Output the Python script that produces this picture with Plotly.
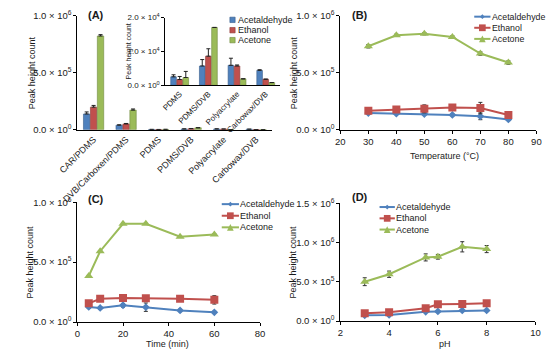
import plotly.graph_objects as go

W, H = 550, 357

# ---------------- data ----------------
fibers = ["CAR/PDMS", "DVB/Carboxen/PDMS", "PDMS", "PDMS/DVB", "Polyacrylate", "Carbowax/DVB"]
fiber_acetaldehyde = [138000, 40000, 2500, 5700, 5900, 4400]
fiber_ethanol = [198000, 51000, 1700, 8600, 5700, 1800]
fiber_acetone = [822000, 172000, 2300, 17100, 1900, 800]
fiber_acetaldehyde_err = [18000, 3000, 600, 1900, 2100, 200]
fiber_ethanol_err = [15000, 4000, 900, 2200, 300, 0]
fiber_acetone_err = [12000, 10000, 1800, 0, 0, 0]

temperature = [30, 40, 50, 60, 70, 80]
temp_acetaldehyde = [146000, 141000, 138000, 130000, 118000, 90000]
temp_ethanol = [166000, 177000, 183000, 194000, 190000, 130000]
temp_acetone = [732000, 828000, 842000, 814000, 668000, 589000]
temp_acetaldehyde_err = [8000, 8000, 8000, 8000, 30000, 8000]
temp_ethanol_err = [10000, 10000, 35000, 10000, 50000, 20000]
temp_acetone_err = [15000, 10000, 10000, 10000, 15000, 15000]

time_min = [5, 10, 20, 30, 45, 60]
time_acetaldehyde = [126000, 118000, 140000, 124000, 97000, 81000]
time_ethanol = [156000, 194000, 200000, 199000, 194000, 185000]
time_acetone = [384000, 591000, 820000, 820000, 712000, 731000]
time_acetaldehyde_err = [10000, 10000, 15000, 35000, 10000, 8000]
time_ethanol_err = [10000, 10000, 10000, 10000, 10000, 35000]
time_acetone_err = [5000, 5000, 5000, 5000, 5000, 5000]

ph = [3, 4, 5.5, 6, 7, 8]
ph_acetaldehyde = [74000, 78000, 119000, 123000, 136000, 136000]
ph_ethanol = [99000, 111000, 164000, 214000, 218000, 226000]
ph_acetone = [501000, 596000, 810000, 818000, 945000, 916000]
ph_acetaldehyde_err = [5000, 5000, 5000, 5000, 5000, 5000]
ph_ethanol_err = [10000, 10000, 20000, 20000, 10000, 10000]
ph_acetone_err = [50000, 40000, 45000, 30000, 65000, 45000]

series_names = ["Acetaldehyde", "Ethanol", "Acetone"]
colors = ["#4F81BD", "#C0504D", "#9BBB59"]
edge = ["#385D8A", "#8C3836", "#71893F"]
symbols = ["diamond", "square", "triangle-up"]
msizes = [6, 8, 8]

FONT = "Liberation Sans, Arial, sans-serif"
TXT = "#1a1a1a"


def px(x):
    return x / W


def py(y):
    return 1 - y / H


def sci(m, e):
    return f"{m} × 10<sup>{e}</sup>"


fig = go.Figure()

# ---------- Panel A: bars (main + inset) ----------
fib_vals = [fiber_acetaldehyde, fiber_ethanol, fiber_acetone]
fib_errs = [fiber_acetaldehyde_err, fiber_ethanol_err, fiber_acetone_err]
for i in range(3):
    fig.add_trace(go.Bar(
        x=fibers, y=fib_vals[i], name=series_names[i],
        marker=dict(color=colors[i], line=dict(color=edge[i], width=0.6)),
        error_y=dict(type="data", array=fib_errs[i], color="#222", thickness=1, width=2,
                     symmetric=False, arrayminus=[0] * len(fibers)),
        xaxis="x", yaxis="y", showlegend=False))
for i in range(3):
    fig.add_trace(go.Bar(
        x=fibers[2:], y=fib_vals[i][2:], name=series_names[i],
        marker=dict(color=colors[i], line=dict(color=edge[i], width=0.6)),
        error_y=dict(type="data", array=fib_errs[i][2:], color="#222", thickness=1, width=2,
                     symmetric=False, arrayminus=[0] * 4),
        xaxis="x2", yaxis="y2", showlegend=False))

# ---------- line panels ----------
panels = [
    ("x3", "y3", temperature, [temp_acetaldehyde, temp_ethanol, temp_acetone],
     [temp_acetaldehyde_err, temp_ethanol_err, temp_acetone_err]),
    ("x4", "y4", time_min, [time_acetaldehyde, time_ethanol, time_acetone],
     [time_acetaldehyde_err, time_ethanol_err, time_acetone_err]),
    ("x5", "y5", ph, [ph_acetaldehyde, ph_ethanol, ph_acetone],
     [ph_acetaldehyde_err, ph_ethanol_err, ph_acetone_err]),
]
for xa, ya, xs, vals, errs in panels:
    for i in range(3):
        fig.add_trace(go.Scatter(
            x=xs, y=vals[i], mode="lines+markers", name=series_names[i],
            line=dict(color=colors[i], width=2),
            marker=dict(symbol=symbols[i], size=msizes[i], color=colors[i]),
            error_y=dict(type="data", array=errs[i], color="#333", thickness=1, width=2),
            xaxis=xa, yaxis=ya, showlegend=False))

axis_common = dict(showline=True, linecolor="black", linewidth=1, showgrid=False,
                   zeroline=False, ticks="outside", ticklen=3, tickcolor="black",
                   tickfont=dict(family=FONT, size=9.5, color=TXT))

ytick_1e6 = dict(tickmode="array", tickvals=[0, 5e5, 1e6],
                 ticktext=[sci("0.0", 0), sci("5.0", 5), sci("1.0", 6)])

layout = dict(
    width=W, height=H, margin=dict(l=0, r=0, t=0, b=0),
    paper_bgcolor="white", plot_bgcolor="white",
    barmode="group", bargap=0.36, bargroupgap=0.08,
    font=dict(family=FONT, size=9, color=TXT),
    showlegend=False,
    xaxis=dict(axis_common, domain=[px(61), px(265)], anchor="y", type="category",
               range=[-0.5, 5.5], tickangle=-45, ticks="",
               tickfont=dict(family=FONT, size=9, color=TXT)),
    yaxis=dict(axis_common, domain=[py(127), py(9)], anchor="x", range=[0, 1e6], **ytick_1e6),
    xaxis2=dict(axis_common, domain=[px(153), px(273)], anchor="y2", type="category",
                range=[-0.5, 3.5], tickangle=-45, ticks="",
                tickfont=dict(family=FONT, size=8, color=TXT)),
    yaxis2=dict(axis_common, domain=[py(81), py(11)], anchor="x2", range=[0, 2e4],
                tickmode="array", tickvals=[0, 1e4, 2e4],
                ticktext=[sci("0.0", 0), sci("1.0", 4), sci("2.0", 4)],
                tickfont=dict(family=FONT, size=8, color=TXT)),
    xaxis3=dict(axis_common, domain=[px(336), px(541)], anchor="y3", range=[20, 90], dtick=10),
    yaxis3=dict(axis_common, domain=[py(127), py(9)], anchor="x3", range=[0, 1e6], **ytick_1e6),
    xaxis4=dict(axis_common, domain=[px(61), px(252)], anchor="y4", range=[0, 80], dtick=20),
    yaxis4=dict(axis_common, domain=[py(326), py(202)], anchor="x4", range=[0, 1e6], **ytick_1e6),
    xaxis5=dict(axis_common, domain=[px(336), px(540)], anchor="y5", range=[2, 10], dtick=2),
    yaxis5=dict(axis_common, domain=[py(325), py(203)], anchor="x5", range=[0, 1.5e6],
                tickmode="array", tickvals=[0, 5e5, 1e6, 1.5e6],
                ticktext=[sci("0.0", 0), sci("5.0", 5), sci("1.0", 6), sci("1.5", 6)]),
)
fig.update_layout(**layout)

annotations = []
shapes = []


def ann(x, y, text, size=9, angle=0, bold=False, xanchor="center"):
    annotations.append(dict(
        x=px(x), y=py(y), xref="paper", yref="paper", text=f"<b>{text}</b>" if bold else text,
        showarrow=False, textangle=angle, xanchor=xanchor, yanchor="middle",
        font=dict(family=FONT, size=size, color=TXT)))


# y axis titles
ann(13, 68, "Peak height count", angle=-90)
ann(116, 46, "Peak height count", size=7, angle=-90)
ann(287, 68, "Peak height count", angle=-90)
ann(12, 264, "Peak height count", angle=-90)
ann(287, 264, "Peak height count", angle=-90)
# x axis titles
ann(445, 154, "Temperature (°C)")
ann(155, 349, "Time (min)")
ann(445, 349, "pH")
# panel labels
ann(81, 8, "(A)", size=11, bold=True)
ann(357, 8, "(B)", size=11, bold=True)
ann(81, 199, "(C)", size=11, bold=True)
ann(357, 197, "(D)", size=11, bold=True)


def marker_shape(cx, cy, sym, color, s):
    if sym == "square":
        shapes.append(dict(type="rect", xref="paper", yref="paper",
                           x0=px(cx - s / 2), x1=px(cx + s / 2), y0=py(cy + s / 2), y1=py(cy - s / 2),
                           fillcolor=color, line=dict(width=0)))
    elif sym == "diamond":
        p = (f"M {px(cx)},{py(cy - s / 2)} L {px(cx + s / 2)},{py(cy)} "
             f"L {px(cx)},{py(cy + s / 2)} L {px(cx - s / 2)},{py(cy)} Z")
        shapes.append(dict(type="path", xref="paper", yref="paper", path=p,
                           fillcolor=color, line=dict(width=0)))
    else:
        p = (f"M {px(cx)},{py(cy - s / 2)} L {px(cx + s / 2)},{py(cy + s / 2)} "
             f"L {px(cx - s / 2)},{py(cy + s / 2)} Z")
        shapes.append(dict(type="path", xref="paper", yref="paper", path=p,
                           fillcolor=color, line=dict(width=0)))


def line_legend(x0, x1, ys, tx, size=9):
    for i in range(3):
        shapes.append(dict(type="line", xref="paper", yref="paper",
                           x0=px(x0), x1=px(x1), y0=py(ys[i]), y1=py(ys[i]),
                           line=dict(color=colors[i], width=2)))
        marker_shape((x0 + x1) / 2, ys[i], symbols[i].replace("-up", ""), colors[i],
                     [5, 7, 7][i])
        ann(tx, ys[i], series_names[i], size=size, xanchor="left")


line_legend(476, 493, [10, 21.5, 33], 492, size=8.8)
line_legend(212, 230, [204, 216, 228], 229)
line_legend(377, 393, [207, 218.7, 230.3], 392)

# inset bar legend
for i, yy in enumerate([13.3, 24, 34.3]):
    shapes.append(dict(type="rect", xref="paper", yref="paper",
                       x0=px(220.5), x1=px(226), y0=py(yy + 2.8), y1=py(yy - 2.8),
                       fillcolor=colors[i], line=dict(color=edge[i], width=0.6)))
    ann(226.5, yy, series_names[i], xanchor="left")

fig.update_layout(annotations=annotations, shapes=shapes)
fig.write_html("out.html", config={"displayModeBar": False},
               post_script="document.body.style.margin='0px';document.body.style.overflow='hidden';")
